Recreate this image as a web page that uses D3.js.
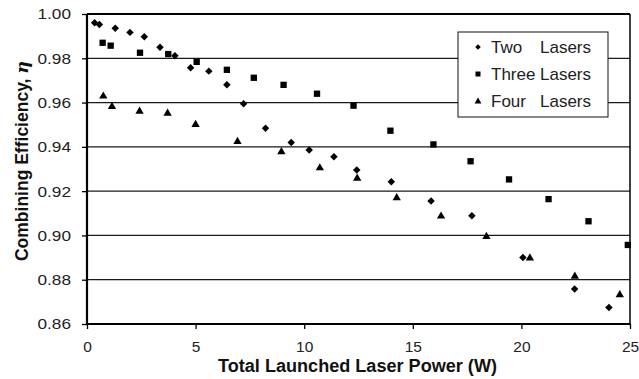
<!DOCTYPE html>
<html>
<head>
<meta charset="utf-8">
<script src="https://cdn.jsdelivr.net/npm/d3@7"></script>
<style>
  html, body { margin: 0; padding: 0; background: #fff; }
  svg { display: block; font-family: "Liberation Sans", Arial, sans-serif; }
</style>
</head>
<body>
<svg id="chart" width="639" height="379"></svg>
<script>
// ---- Data ----
const twoX   = [0.35, 0.57, 1.30, 1.98, 2.64, 3.36, 4.05, 4.77, 5.61, 6.44, 7.21, 8.22, 9.40, 10.23, 11.37, 12.42, 14.01, 15.84, 17.72, 20.07, 22.45, 24.03];
const twoY   = [0.996, 0.9953, 0.9936, 0.9917, 0.9897, 0.985, 0.9811, 0.9757, 0.9742, 0.968, 0.9595, 0.9484, 0.942, 0.9386, 0.9355, 0.9295, 0.9242, 0.9155, 0.9089, 0.890, 0.8758, 0.8675];
const threeX = [0.72, 1.09, 2.44, 3.74, 5.05, 6.44, 7.68, 9.05, 10.59, 12.27, 13.97, 15.95, 17.66, 19.43, 21.25, 23.09, 24.90];
const threeY = [0.987, 0.9857, 0.9825, 0.9819, 0.9784, 0.9748, 0.9712, 0.968, 0.964, 0.9586, 0.9473, 0.9411, 0.9335, 0.9253, 0.9164, 0.9064, 0.8957];
const fourX  = [0.75, 1.15, 2.42, 3.71, 5.00, 6.93, 8.95, 10.72, 12.44, 14.26, 16.30, 18.39, 20.39, 22.46, 24.53];
const fourY  = [0.9631, 0.9584, 0.9563, 0.9554, 0.9503, 0.9426, 0.938, 0.9307, 0.926, 0.9172, 0.9089, 0.8997, 0.890, 0.8818, 0.8734];
const seriesNames = ["Two", "Three", "Four"];
const xTicks = [0, 5, 10, 15, 20, 25];
const yTicks = [0.86, 0.88, 0.90, 0.92, 0.94, 0.96, 0.98, 1.00];
const xTitle = "Total Launched Laser Power (W)";
const yTitle = "Combining Efficiency, ";

const svg = d3.select("#chart");
const L = 87, R = 630, T = 14, B = 324;
const x = d3.scaleLinear().domain([0, 25]).range([L, R]);
const y = d3.scaleLinear().domain([0.86, 1.00]).range([B, T]);

// gridlines
svg.append("g").selectAll("line").data(yTicks.filter(v => v > 0.86 && v < 1.0)).join("line")
  .attr("x1", L).attr("x2", R).attr("y1", d => y(d)).attr("y2", d => y(d))
  .attr("stroke", "#1a1a1a").attr("stroke-width", 1.2);

// border: top & right
svg.append("line").attr("x1", L).attr("x2", R).attr("y1", T).attr("y2", T).attr("stroke", "#000").attr("stroke-width", 2);
svg.append("line").attr("x1", R).attr("x2", R).attr("y1", T).attr("y2", B).attr("stroke", "#000").attr("stroke-width", 1.5);

// axes
const yAxis = d3.axisLeft(y).tickValues(yTicks).tickFormat(d3.format(".2f")).tickSize(5).tickPadding(11);
const gy = svg.append("g").attr("transform", `translate(${L},0)`).call(yAxis);
gy.select(".domain").attr("stroke", "#000").attr("stroke-width", 2.2).attr("d", `M0,${T}V${B + 1}`);
gy.selectAll(".tick line").attr("stroke", "#000").attr("stroke-width", 1.3);
gy.selectAll(".tick text").attr("font-size", 15.5).attr("fill", "#222")
  .attr("font-family", '"Liberation Sans", Arial, sans-serif')
  .attr("textLength", 33.5).attr("lengthAdjust", "spacingAndGlyphs");

const xAxis = d3.axisBottom(x).tickValues(xTicks).tickFormat(d3.format("d")).tickSize(5).tickPadding(12);
const gx = svg.append("g").attr("transform", `translate(0,${B})`).call(xAxis);
gx.select(".domain").attr("stroke", "#000").attr("stroke-width", 2.2).attr("d", `M${L - 1},0H${R}`);
gx.selectAll(".tick line").attr("stroke", "#000").attr("stroke-width", 1.3);
gx.selectAll(".tick text").attr("font-size", 15.5).attr("fill", "#222")
  .attr("font-family", '"Liberation Sans", Arial, sans-serif');

// axis titles
svg.append("text").attr("x", (218 + 497) / 2).attr("y", 372).attr("text-anchor", "middle")
  .attr("font-size", 17.5).attr("font-weight", "bold").attr("fill", "#111")
  .attr("textLength", 279).attr("lengthAdjust", "spacingAndGlyphs")
  .text(xTitle);

const yt = svg.append("text").attr("transform", "translate(28,161) rotate(-90)").attr("text-anchor", "middle")
  .attr("font-size", 17.5).attr("font-weight", "bold").attr("fill", "#111");
yt.append("tspan").text(yTitle);
yt.append("tspan").attr("font-style", "italic").attr("font-family", '"DejaVu Serif", serif').text("η");

// markers
const sym = {
  Two:   d3.symbol().type(d3.symbolSquare).size(28),
  Three: d3.symbol().type(d3.symbolSquare).size(40),
  Four:  d3.symbol().type(d3.symbolTriangle).size(30)
};
const rot = { Two: 45, Three: 0, Four: 0 };
const dy = { Two: 0, Three: 0, Four: 0.5 };
const series = [
  { name: "Two",   xs: twoX,   ys: twoY },
  { name: "Three", xs: threeX, ys: threeY },
  { name: "Four",  xs: fourX,  ys: fourY }
];
series.forEach(s => {
  const pts = s.xs.map((v, i) => [v, s.ys[i]]);
  svg.append("g").selectAll("path").data(pts).join("path")
    .attr("d", sym[s.name]())
    .attr("transform", d => `translate(${x(d[0])},${y(d[1]) + dy[s.name]}) rotate(${rot[s.name]})`)
    .attr("fill", "#000");
});

// legend
const lg = svg.append("g");
lg.append("rect").attr("x", 458).attr("y", 32).attr("width", 150).attr("height", 85)
  .attr("fill", "#fff").attr("stroke", "#111").attr("stroke-width", 1);
const rowY = [47, 74, 101];
const legSym = {
  Two:   d3.symbol().type(d3.symbolSquare).size(15),
  Three: d3.symbol().type(d3.symbolSquare).size(25),
  Four:  d3.symbol().type(d3.symbolTriangle).size(20)
};
seriesNames.forEach((n, i) => {
  lg.append("path").attr("d", legSym[n]())
    .attr("transform", `translate(478,${rowY[i] + (n === "Four" ? 0.5 : 0)}) rotate(${rot[n]})`)
    .attr("fill", "#000");
  const t = lg.append("text").attr("y", rowY[i] + 6).attr("font-size", 17).attr("fill", "#222");
  t.append("tspan").attr("x", 491).text(n);
  t.append("tspan").attr("x", 540).text("Lasers");
});
</script>
</body>
</html>
